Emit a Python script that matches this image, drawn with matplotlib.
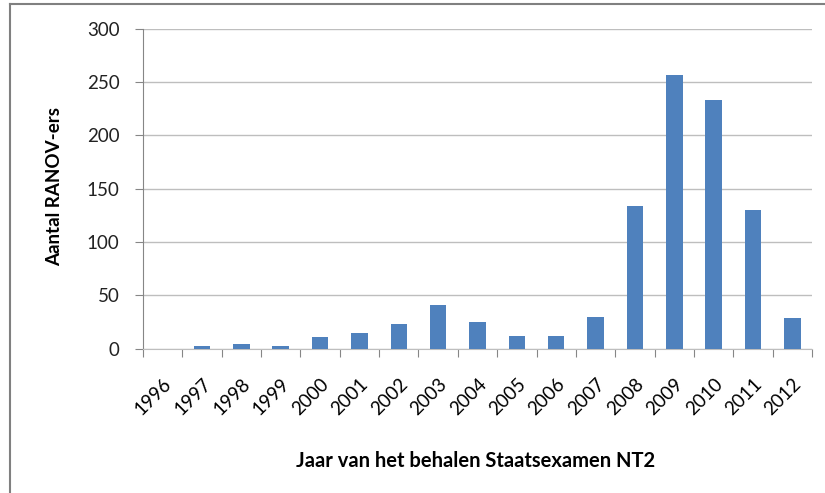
import matplotlib.pyplot as plt
from matplotlib.lines import Line2D
import numpy as np

years = ['1996', '1997', '1998', '1999', '2000', '2001', '2002', '2003', '2004',
         '2005', '2006', '2007', '2008', '2009', '2010', '2011', '2012']
aantal = [0, 3, 4, 3, 11, 15, 23, 41, 25, 12, 12, 30, 134, 257, 233, 130, 29]
y_ticks = [0, 50, 100, 150, 200, 250, 300]

plt.rcParams['font.family'] = ['Lato', 'DejaVu Sans']

fig = plt.figure(figsize=(8.25, 4.93), dpi=100)
ax = fig.add_axes([143 / 825, 1 - 348.7 / 493, (812 - 143) / 825, (348.7 - 28.7) / 493])

x = np.arange(len(years))
ax.bar(x, aantal, width=0.42, color='#4F81BD', zorder=3)

ax.set_xlim(-0.5, len(years) - 0.5)
ax.set_ylim(0, 300)
ax.set_yticks(y_ticks)
ax.set_yticklabels([str(v) for v in y_ticks], fontsize=13.5, color='#222222')
ax.yaxis.grid(True, color='#BEBEBE', linewidth=1.0, zorder=0)

# ticks between categories, labels at the centres
ax.set_xticks(np.arange(-0.5, len(years), 1.0))
ax.set_xticklabels([])
ax.set_xticks(x, minor=True)
ax.set_xticklabels(years, minor=True, rotation=45, ha='right', va='top',
                   rotation_mode='anchor', fontsize=13.5)
ax.tick_params(axis='x', which='minor', length=0, pad=19)
ax.tick_params(axis='x', which='major', length=6, color='#868686', direction='out')
ax.tick_params(axis='y', length=6, color='#868686', direction='out', pad=11)

for side in ['top', 'right']:
    ax.spines[side].set_visible(False)
ax.spines['left'].set_color('#868686')
ax.spines['bottom'].set_color('#BEBEBE')

fig.text(55 / 825, 1 - 187 / 493, 'Aantal RANOV-ers', rotation=90, ha='center',
         va='center', fontsize=13.5, fontweight='bold')
fig.text(476 / 825, 1 - 461 / 493, 'Jaar van het behalen Staatsexamen NT2',
         ha='center', va='center', fontsize=14.5, fontweight='bold')

# outer frame (left and top edges)
fig.add_artist(Line2D([10 / 825, 10 / 825], [0, 1 - 4 / 493], color='#808080', linewidth=1.5))
fig.add_artist(Line2D([10 / 825, 1], [1 - 4 / 493, 1 - 4 / 493], color='#808080', linewidth=1.5))

fig.savefig('out.png', dpi=100)
